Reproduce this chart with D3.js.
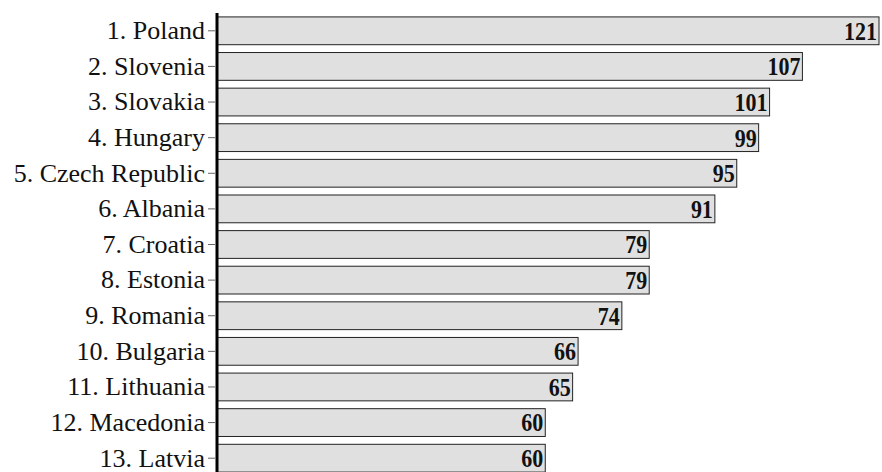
<!DOCTYPE html>
<html><head><meta charset="utf-8">
<script src="https://cdn.jsdelivr.net/npm/d3@7"></script>
<style>body{margin:0;background:#fff}svg{display:block}</style>
</head><body>
<script>
const categories = ["1. Poland","2. Slovenia","3. Slovakia","4. Hungary","5. Czech Republic","6. Albania","7. Croatia","8. Estonia","9. Romania","10. Bulgaria","11. Lithuania","12. Macedonia","13. Latvia"];
const values = [121,107,101,99,95,91,79,79,74,66,65,60,60];

const W = 882, H = 472;
const serif = "'Liberation Serif', 'Times New Roman', serif";
const svg = d3.select("body").append("svg").attr("width", W).attr("height", H);
const x = d3.scaleLinear().domain([0, 121]).range([217, 879]);
const y = d3.scaleBand().domain(categories).range([13, 476]).paddingInner(0.22).paddingOuter(0.11);

svg.append("g").selectAll("rect").data(values).join("rect")
  .attr("x", x(0)).attr("y", (d,i)=>y(categories[i]))
  .attr("width", d=>x(d)-x(0)).attr("height", y.bandwidth())
  .attr("fill", "#e0e0e0").attr("stroke", "#222").attr("stroke-width", 1);

svg.append("g").selectAll("text").data(values).join("text")
  .attr("transform", (d,i)=>`translate(${x(d)-2},${y(categories[i]) + y.bandwidth() - 5}) scale(1,1.18)`)
  .attr("text-anchor", "end")
  .attr("font-family", serif)
  .attr("font-weight", "bold").attr("font-size", 22).attr("fill", "#111")
  .text(d=>d);

const ax = svg.append("g").attr("transform", `translate(${x(0)},0)`)
  .call(d3.axisLeft(y).tickSize(8).tickPadding(3));
ax.select(".domain").attr("stroke", "#000").attr("stroke-width", 3).attr("d", `M0,13V${H}`);
ax.selectAll(".tick line").attr("stroke", "#666").attr("x1", -2).attr("x2", -9);
ax.selectAll(".tick text").attr("font-family", serif)
  .attr("font-size", 26).attr("fill", "#111").attr("x", -12).attr("dy", "0.32em");
</script>
</body></html>
